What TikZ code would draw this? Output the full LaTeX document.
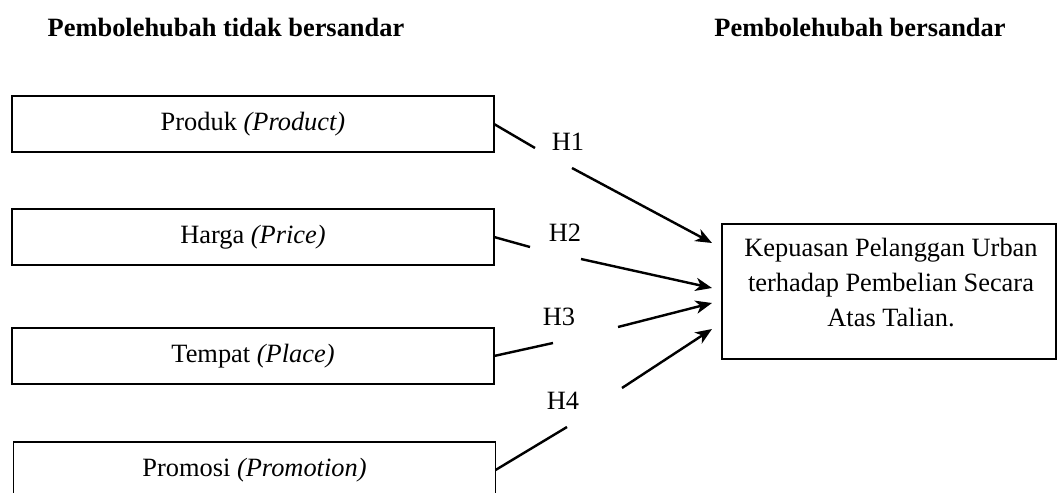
\documentclass[tikz,border=0pt]{standalone}
\usepackage{fontspec}
\setmainfont{Liberation Serif}
\usetikzlibrary{arrows.meta}
\begin{document}
\begin{tikzpicture}[x=0.4545pt,y=-0.4545pt,
  varbox/.style={draw, line width=0.8pt, minimum width=219.1pt, minimum height=25.45pt, inner sep=0pt, outer sep=0pt, font=\fontsize{12}{14}\selectfont},
  depbox/.style={draw, line width=0.8pt, minimum width=151.8pt, minimum height=61.36pt, inner sep=0pt, outer sep=0pt},
  deptext/.style={align=center, inner sep=0pt, font=\fontsize{12}{15.9}\selectfont},
  hlabel/.style={font=\fontsize{12}{14}\selectfont, inner sep=0pt},
  link/.style={line width=1.1pt},
  arrowlink/.style={link, -{Stealth[length=7.5pt,width=6pt,inset=2.2pt]}},
  header/.style={font=\fontsize{12}{14}\selectfont\bfseries, inner sep=0pt}]
\useasboundingbox (0,0) rectangle (1057,493);
\clip (0,0) rectangle (1057,493);
% headers
\node[header] (hind) at (226,28) {Pembolehubah tidak bersandar};
\node[header] (hdep) at (860,28) {Pembolehubah bersandar};
% independent variables
\node[varbox] (prod) at (253,124) {Produk \textit{(Product)}};
\node[varbox] (harga) at (253,237) {Harga \textit{(Price)}};
\node[varbox] (tempat) at (253,356) {Tempat \textit{(Place)}};
\node[varbox] (promo) at (254.5,470) {Promosi \textit{(Promotion)}};
% dependent variable
\node[depbox] (kep) at (889,291.5) {};
\node[deptext] (keptext) at (891,283) {Kepuasan Pelanggan Urban\\terhadap Pembelian Secara\\Atas Talian.};
% hypothesis labels
\node[hlabel] (h1) at (568,142) {H1};
\node[hlabel] (h2) at (565,233) {H2};
\node[hlabel] (h3) at (559,317) {H3};
\node[hlabel] (h4) at (563,401) {H4};
% segment ends
\coordinate (h1a) at (535,148);
\coordinate (h1b) at (572,168);
\coordinate (t1) at (712,243);
\coordinate (h2a) at (530,247);
\coordinate (h2b) at (581,259);
\coordinate (t2) at (712,288);
\coordinate (h3a) at (553,343);
\coordinate (h3b) at (618,327);
\coordinate (t3) at (712,303);
\coordinate (h4a) at (567,427);
\coordinate (h4b) at (622,388);
\coordinate (t4) at (712,329);
% connectors
\draw[link] (prod.east) -- (h1a);
\draw[arrowlink] (h1b) -- (t1);
\draw[link] (harga.east) -- (h2a);
\draw[arrowlink] (h2b) -- (t2);
\draw[link] (tempat.east) -- (h3a);
\draw[arrowlink] (h3b) -- (t3);
\draw[link] (promo.east) -- (h4a);
\draw[arrowlink] (h4b) -- (t4);
\end{tikzpicture}
\end{document}
